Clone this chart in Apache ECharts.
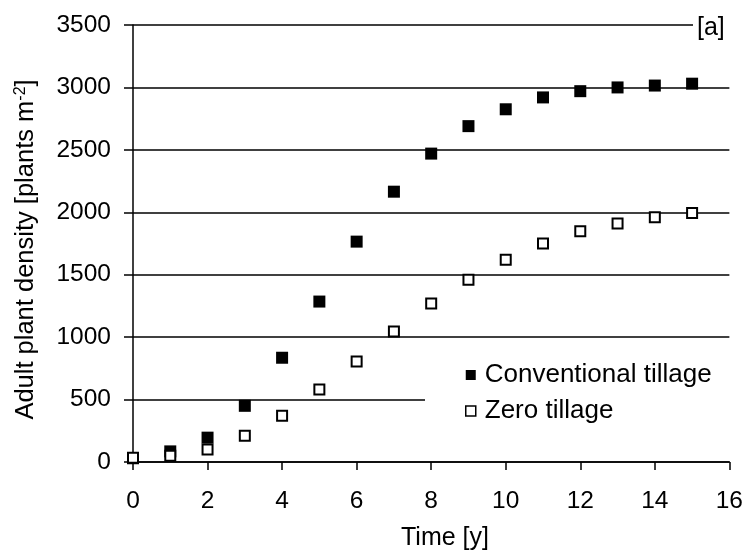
<!DOCTYPE html>
<html>
<head>
<meta charset="utf-8">
<script src="https://cdn.jsdelivr.net/npm/echarts@6/dist/echarts.min.js"></script>
<style>
  html, body { margin: 0; padding: 0; background: #fff; }
  #chart { width: 746px; height: 555px; }
</style>
</head>
<body>
<div id="chart"></div>
<script>
// years since start
const years = [0, 1, 2, 3, 4, 5, 6, 7, 8, 9, 10, 11, 12, 13, 14, 15];
// adult plant density [plants m-2]
const conventional = [30, 85, 195, 450, 835, 1285, 1765, 2165, 2470, 2690, 2825, 2920, 2970, 3000, 3015, 3030];
const zero = [35, 50, 100, 210, 370, 580, 805, 1045, 1270, 1460, 1620, 1750, 1848, 1910, 1960, 1995];
const xTicks = [0, 2, 4, 6, 8, 10, 12, 14, 16];
const yTicks = [0, 500, 1000, 1500, 2000, 2500, 3000, 3500];

const font = "'Liberation Sans', Arial, sans-serif";
const chart = echarts.init(document.getElementById("chart"));

const pairs = (ys) => years.map((x, i) => [x, ys[i]]);

chart.setOption({
  animation: false,
  backgroundColor: "#fff",
  grid: { left: 133, right: 16, top: 25, bottom: 93, containLabel: false },
  xAxis: {
    type: "value",
    min: xTicks[0],
    max: xTicks[xTicks.length - 1],
    interval: 2,
    axisLine: { show: true, onZero: false, lineStyle: { color: "#000", width: 1.5 } },
    axisTick: { show: true, length: 8, lineStyle: { color: "#000", width: 1.5 } },
    axisLabel: { margin: 27, color: "#000", fontFamily: font, fontSize: 24.5, formatter: (v) => String(v) },
    splitLine: { show: false }
  },
  yAxis: {
    type: "value",
    min: yTicks[0],
    max: yTicks[yTicks.length - 1],
    interval: 500,
    name: "Adult plant density [plants m{sup|-2}]",
    nameLocation: "middle",
    nameRotate: 90,
    nameGap: 94,
    nameTextStyle: {
      color: "#000",
      fontFamily: font,
      fontSize: 25.5,
      padding: [0, 12, 0, 0],
      rich: {
        sup: { fontSize: 16, fontFamily: font, color: "#000", verticalAlign: "top", padding: [0, 0, 10, 0] }
      }
    },
    axisLine: { show: true, lineStyle: { color: "#000", width: 1.5 } },
    axisTick: { show: true, length: 9, lineStyle: { color: "#000", width: 1.5 } },
    axisLabel: { margin: 22, color: "#000", fontFamily: font, fontSize: 24.5, formatter: (v) => String(v) },
    splitLine: { show: true, lineStyle: { color: "#000", width: 1.5 } }
  },
  legend: {
    left: 425,
    top: 358,
    orient: "vertical",
    backgroundColor: "#fff",
    padding: [4, 36, 4, 40],
    itemGap: 10,
    itemWidth: 10,
    itemHeight: 10,
    textStyle: { color: "#000", fontFamily: font, fontSize: 26, padding: [0, 0, 0, 4] },
    data: [
      { name: "Conventional tillage", icon: "rect", itemStyle: { color: "#000", borderWidth: 0 } },
      { name: "Zero tillage", icon: "rect", itemStyle: { color: "#fff", borderColor: "#000", borderWidth: 1.5 } }
    ]
  },
  graphic: [
    {
      type: "text",
      x: 693,
      y: 28,
      z: 100,
      style: {
        text: "[a]",
        fill: "#000",
        font: "25px " + font,
        textVerticalAlign: "middle",
        backgroundColor: "#fff",
        padding: [2, 30, 2, 4]
      }
    },
    {
      type: "text",
      x: 445,
      y: 538,
      style: {
        text: "Time [y]",
        fill: "#000",
        font: "25px " + font,
        textAlign: "center",
        textVerticalAlign: "middle"
      }
    }
  ],
  series: [
    {
      name: "Conventional tillage",
      type: "scatter",
      symbol: "rect",
      symbolSize: 12,
      itemStyle: { color: "#000", opacity: 1 },
      data: pairs(conventional)
    },
    {
      name: "Zero tillage",
      type: "scatter",
      symbol: "rect",
      symbolSize: 10,
      itemStyle: { color: "#fff", borderColor: "#000", borderWidth: 2, opacity: 1 },
      data: pairs(zero)
    }
  ]
});
</script>
</body>
</html>
